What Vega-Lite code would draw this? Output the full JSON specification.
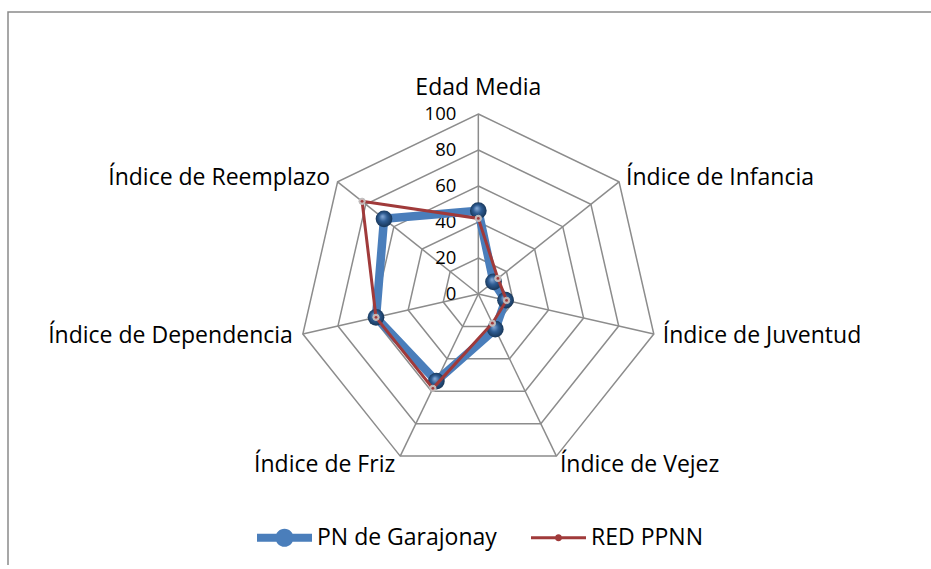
{
  "$schema": "https://vega.github.io/schema/vega-lite/v6.json",
  "width": 923,
  "height": 553,
  "autosize": "none",
  "padding": {"left": 8, "top": 12, "right": 0, "bottom": 0},
  "background": "white",
  "config": {
    "view": {"stroke": "#8a8a8a", "strokeWidth": 1.5, "strokeDash": [923, 1476, 553, 10]},
    "font": "Open Sans",
    "text": {"font": "Open Sans", "color": "#000000"}
  },
  "datasets": {
    "vals": [
      {"series": "PN de Garajonay", "axis": "Edad Media", "idx": 0, "value": 46.3},
      {"series": "PN de Garajonay", "axis": "Índice de Infancia", "idx": 1, "value": 10.8},
      {"series": "PN de Garajonay", "axis": "Índice de Juventud", "idx": 2, "value": 15.5},
      {"series": "PN de Garajonay", "axis": "Índice de Vejez", "idx": 3, "value": 21.7},
      {"series": "PN de Garajonay", "axis": "Índice de Friz", "idx": 4, "value": 53.7},
      {"series": "PN de Garajonay", "axis": "Índice de Dependencia", "idx": 5, "value": 58.3},
      {"series": "PN de Garajonay", "axis": "Índice de Reemplazo", "idx": 6, "value": 67},
      {"series": "RED PPNN", "axis": "Edad Media", "idx": 0, "value": 42},
      {"series": "RED PPNN", "axis": "Índice de Infancia", "idx": 1, "value": 13.9},
      {"series": "RED PPNN", "axis": "Índice de Juventud", "idx": 2, "value": 16.1},
      {"series": "RED PPNN", "axis": "Índice de Vejez", "idx": 3, "value": 18},
      {"series": "RED PPNN", "axis": "Índice de Friz", "idx": 4, "value": 58.2},
      {"series": "RED PPNN", "axis": "Índice de Dependencia", "idx": 5, "value": 58.3},
      {"series": "RED PPNN", "axis": "Índice de Reemplazo", "idx": 6, "value": 82.6}
    ],
    "axes": [
      {"axis": "Edad Media", "idx": 0},
      {"axis": "Índice de Infancia", "idx": 1},
      {"axis": "Índice de Juventud", "idx": 2},
      {"axis": "Índice de Vejez", "idx": 3},
      {"axis": "Índice de Friz", "idx": 4},
      {"axis": "Índice de Dependencia", "idx": 5},
      {"axis": "Índice de Reemplazo", "idx": 6}
    ],
    "ticks": [
      {"level": 0}, {"level": 20}, {"level": 40}, {"level": 60}, {"level": 80}, {"level": 100}
    ]
  },
  "encoding": {
    "x": {"field": "x", "type": "quantitative", "scale": {"domain": [-261.3, 251.5], "nice": false, "zero": false}, "axis": null},
    "y": {"field": "y", "type": "quantitative", "scale": {"domain": [-150.6, 156.7], "nice": false, "zero": false}, "axis": null}
  },
  "layer": [
    {
      "data": {"name": "axes"},
      "transform": [
        {"calculate": "[20,40,60,80,100]", "as": "lv"},
        {"flatten": ["lv"]},
        {"calculate": "datum.lv*sin(datum.idx*2*PI/7)", "as": "x"},
        {"calculate": "datum.lv*cos(datum.idx*2*PI/7)", "as": "y"}
      ],
      "mark": {"type": "line", "interpolate": "linear-closed", "color": "#8c8c8c", "strokeWidth": 1.5},
      "encoding": {
        "detail": {"field": "lv", "type": "nominal"},
        "order": {"field": "idx", "type": "quantitative"}
      }
    },
    {
      "data": {"name": "axes"},
      "transform": [
        {"calculate": "100*sin(datum.idx*2*PI/7)", "as": "x"},
        {"calculate": "100*cos(datum.idx*2*PI/7)", "as": "y"}
      ],
      "mark": {"type": "rule", "color": "#8c8c8c", "strokeWidth": 1.5},
      "encoding": {"x2": {"datum": 0}, "y2": {"datum": 0}}
    },
    {
      "data": {"name": "ticks"},
      "transform": [
        {"calculate": "0", "as": "x"},
        {"calculate": "datum.level", "as": "y"}
      ],
      "mark": {"type": "text", "align": "right", "baseline": "middle", "dx": -22, "fontSize": 18.5},
      "encoding": {"text": {"field": "level", "type": "quantitative"}}
    },
    {
      "data": {"name": "axes"},
      "transform": [
        {"filter": "datum.idx == 0"},
        {"calculate": "100*sin(datum.idx*2*PI/7)", "as": "x"},
        {"calculate": "100*cos(datum.idx*2*PI/7)", "as": "y"}
      ],
      "mark": {"type": "text", "align": "center", "baseline": "alphabetic", "dy": -19, "fontSize": 23},
      "encoding": {"text": {"field": "axis", "type": "nominal"}}
    },
    {
      "data": {"name": "axes"},
      "transform": [
        {"filter": "datum.idx == 1"},
        {"calculate": "100*sin(datum.idx*2*PI/7)", "as": "x"},
        {"calculate": "100*cos(datum.idx*2*PI/7)", "as": "y"}
      ],
      "mark": {"type": "text", "align": "left", "baseline": "alphabetic", "dx": 7, "dy": 3, "fontSize": 23},
      "encoding": {"text": {"field": "axis", "type": "nominal"}}
    },
    {
      "data": {"name": "axes"},
      "transform": [
        {"filter": "datum.idx == 2"},
        {"calculate": "100*sin(datum.idx*2*PI/7)", "as": "x"},
        {"calculate": "100*cos(datum.idx*2*PI/7)", "as": "y"}
      ],
      "mark": {"type": "text", "align": "left", "baseline": "alphabetic", "dx": 9, "dy": 9, "fontSize": 23},
      "encoding": {"text": {"field": "axis", "type": "nominal"}}
    },
    {
      "data": {"name": "axes"},
      "transform": [
        {"filter": "datum.idx == 3"},
        {"calculate": "100*sin(datum.idx*2*PI/7)", "as": "x"},
        {"calculate": "100*cos(datum.idx*2*PI/7)", "as": "y"}
      ],
      "mark": {"type": "text", "align": "left", "baseline": "alphabetic", "dx": 3.5, "dy": 15.5, "fontSize": 23},
      "encoding": {"text": {"field": "axis", "type": "nominal"}}
    },
    {
      "data": {"name": "axes"},
      "transform": [
        {"filter": "datum.idx == 4"},
        {"calculate": "100*sin(datum.idx*2*PI/7)", "as": "x"},
        {"calculate": "100*cos(datum.idx*2*PI/7)", "as": "y"}
      ],
      "mark": {"type": "text", "align": "right", "baseline": "alphabetic", "dx": -5, "dy": 15.5, "fontSize": 23},
      "encoding": {"text": {"field": "axis", "type": "nominal"}}
    },
    {
      "data": {"name": "axes"},
      "transform": [
        {"filter": "datum.idx == 5"},
        {"calculate": "100*sin(datum.idx*2*PI/7)", "as": "x"},
        {"calculate": "100*cos(datum.idx*2*PI/7)", "as": "y"}
      ],
      "mark": {"type": "text", "align": "right", "baseline": "alphabetic", "dx": -10, "dy": 9, "fontSize": 23},
      "encoding": {"text": {"field": "axis", "type": "nominal"}}
    },
    {
      "data": {"name": "axes"},
      "transform": [
        {"filter": "datum.idx == 6"},
        {"calculate": "100*sin(datum.idx*2*PI/7)", "as": "x"},
        {"calculate": "100*cos(datum.idx*2*PI/7)", "as": "y"}
      ],
      "mark": {"type": "text", "align": "right", "baseline": "alphabetic", "dx": -7.5, "dy": 3, "fontSize": 23},
      "encoding": {"text": {"field": "axis", "type": "nominal"}}
    },
    {
      "data": {"name": "vals"},
      "transform": [
        {"filter": "datum.series == 'PN de Garajonay'"},
        {"calculate": "datum.value*sin(datum.idx*2*PI/7)", "as": "x"},
        {"calculate": "datum.value*cos(datum.idx*2*PI/7)", "as": "y"}
      ],
      "mark": {"type": "line", "interpolate": "linear-closed", "color": "#4a7ebb", "strokeWidth": 8.5, "strokeJoin": "round"},
      "encoding": {"order": {"field": "idx", "type": "quantitative"}}
    },
    {
      "data": {"name": "vals"},
      "transform": [
        {"filter": "datum.series == 'PN de Garajonay'"},
        {"calculate": "datum.value*sin(datum.idx*2*PI/7)", "as": "x"},
        {"calculate": "datum.value*cos(datum.idx*2*PI/7)", "as": "y"}
      ],
      "mark": {
        "type": "point", "shape": "circle", "filled": true, "size": 280, "opacity": 1,
        "fill": {"gradient": "radial", "x1": 0.4, "y1": 0.35, "r1": 0, "x2": 0.5, "y2": 0.5, "r2": 0.55,
          "stops": [{"offset": 0, "color": "#8db0dc"}, {"offset": 0.45, "color": "#2f5d94"}, {"offset": 1, "color": "#14304f"}]}
      }
    },
    {
      "data": {"name": "vals"},
      "transform": [
        {"filter": "datum.series == 'RED PPNN'"},
        {"calculate": "datum.value*sin(datum.idx*2*PI/7)", "as": "x"},
        {"calculate": "datum.value*cos(datum.idx*2*PI/7)", "as": "y"}
      ],
      "mark": {"type": "line", "interpolate": "linear-closed", "color": "#a03a3a", "strokeWidth": 3},
      "encoding": {"order": {"field": "idx", "type": "quantitative"}}
    },
    {
      "data": {"name": "vals"},
      "transform": [
        {"filter": "datum.series == 'RED PPNN'"},
        {"calculate": "datum.value*sin(datum.idx*2*PI/7)", "as": "x"},
        {"calculate": "datum.value*cos(datum.idx*2*PI/7)", "as": "y"}
      ],
      "mark": {"type": "point", "shape": "circle", "filled": true, "size": 40, "fill": "#c8b4b4", "opacity": 1, "stroke": "#bdbdbd", "strokeWidth": 1}
    },
    {
      "data": {"name": "vals"},
      "transform": [
        {"filter": "datum.series == 'RED PPNN'"},
        {"calculate": "datum.value*sin(datum.idx*2*PI/7)", "as": "x"},
        {"calculate": "datum.value*cos(datum.idx*2*PI/7)", "as": "y"}
      ],
      "mark": {"type": "point", "shape": "circle", "filled": true, "size": 8, "fill": "#a03a3a", "opacity": 1}
    },
    {
      "data": {"name": "vals"},
      "transform": [
        {"filter": "datum.idx < 0"},
        {"calculate": "0", "as": "x"},
        {"calculate": "0", "as": "y"}
      ],
      "mark": {"type": "point", "filled": true},
      "encoding": {
        "color": {
          "field": "series", "type": "nominal",
          "scale": {"domain": ["PN de Garajonay", "RED PPNN"], "range": ["#4a7ebb", "#a03a3a"]},
          "legend": {
            "title": null, "orient": "none", "direction": "horizontal", "legendX": 249, "legendY": 498,
            "padding": 0, "symbolSize": 3025, "symbolStrokeWidth": 0, "symbolOpacity": 1,
            "labelFont": "Open Sans", "labelFontSize": 23, "labelColor": "#000000", "labelOffset": 5,
            "labelLimit": 0, "columnPadding": 34
          }
        },
        "shape": {
          "field": "series", "type": "nominal",
          "scale": {"domain": ["PN de Garajonay", "RED PPNN"], "range": [
            "M-1,-0.145L1,-0.145L1,0.145L-1,0.145ZM0.33,0A0.33,0.33 0 1,1 -0.33,0A0.33,0.33 0 1,1 0.33,0Z",
            "M-1,-0.055L1,-0.055L1,0.055L-1,0.055ZM0.13,0A0.13,0.13 0 1,1 -0.13,0A0.13,0.13 0 1,1 0.13,0Z"
          ]},
          "legend": {
            "title": null, "orient": "none", "direction": "horizontal", "legendX": 249, "legendY": 498,
            "padding": 0, "symbolSize": 3025, "symbolStrokeWidth": 0, "symbolOpacity": 1,
            "labelFont": "Open Sans", "labelFontSize": 23, "labelColor": "#000000", "labelOffset": 5,
            "labelLimit": 0, "columnPadding": 34
          }
        }
      }
    }
  ]
}
